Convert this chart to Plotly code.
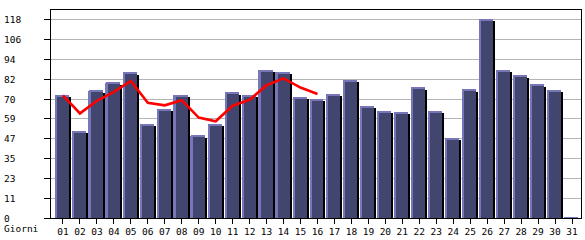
import plotly.graph_objects as go

days = [f"{d:02d}" for d in range(1, 32)]
visits = [73.0, 51.7, 75.9, 80.6, 86.5, 55.9, 64.7, 73.0, 48.9, 55.9,
          74.7, 73.0, 87.9, 86.7, 71.8, 70.6, 73.6, 82.0, 66.5, 63.5,
          62.9, 77.7, 63.5, 47.6, 76.5, 118.4, 87.9, 84.8, 79.5, 76.1, 0.5]
trend_days = list(range(1, 17))
trend = [73.0, 62.3, 69.8, 75.1, 81.6, 68.6, 67.1, 70.2, 59.8, 57.6,
         66.9, 70.4, 79.1, 83.2, 77.7, 73.9]
ytick_vals = [0, 11.8, 23.6, 35.4, 47.2, 59.0, 70.8, 82.6, 94.4, 106.2, 118.0]
ytick_text = ["0", "11", "23", "35", "47", "59", "70", "82", "94", "106", "118"]
x_title = "Giorni"

W, H = 585, 240
ML, MR, MT, MB = 51, 3, 10, 20
pw = W - ML - MR
ph = H - MT - MB
xr = [1 - 12 / 17, 31 + 9 / 17]
yr = [0, 123.9]
upx = (xr[1] - xr[0]) / pw     # data units per pixel (x)
upy = (yr[1] - yr[0]) / ph     # data units per pixel (y)

xs = list(range(1, 32))
font = dict(family="DejaVu Sans Mono", size=9.5, color="black")

fig = go.Figure()
# shadow
fig.add_trace(go.Bar(x=xs, y=[max(v - 2 * upy, 0) for v in visits],
                     width=14 * upx, offset=-6 * upx,
                     marker=dict(color="black", line=dict(width=0)),
                     hoverinfo="skip", showlegend=False))
# body
fig.add_trace(go.Bar(x=xs, y=visits, width=14 * upx, offset=-8 * upx,
                     marker=dict(color="#42456e", line=dict(width=0)),
                     showlegend=False))
# left highlight
fig.add_trace(go.Bar(x=xs, y=visits, width=2 * upx, offset=-8 * upx,
                     marker=dict(color="#7676b8", line=dict(width=0)),
                     hoverinfo="skip", showlegend=False))
# top highlight
fig.add_trace(go.Bar(x=xs, y=[1 * upy] * 31, base=[v - 1 * upy for v in visits],
                     width=14 * upx, offset=-8 * upx,
                     marker=dict(color="#7676b8", line=dict(width=0)),
                     hoverinfo="skip", showlegend=False))
# trend line
fig.add_trace(go.Scatter(x=trend_days, y=trend, mode="lines",
                         line=dict(color="#ff0000", width=2.6),
                         showlegend=False))

annotations = []
for v, t in zip(ytick_vals, ytick_text):
    annotations.append(dict(x=(2 - ML) / pw, xref="paper", y=v, yref="y",
                            text=t, showarrow=False, xanchor="left",
                            yanchor="middle", font=font))
annotations.append(dict(x=(2 - ML) / pw, xref="paper",
                        y=(H - MB - 231) / ph, yref="paper",
                        text=x_title, showarrow=False, xanchor="left",
                        yanchor="middle", font=font))

fig.update_layout(
    width=W, height=H,
    margin=dict(l=ML, r=MR, t=MT, b=MB, pad=0),
    paper_bgcolor="white", plot_bgcolor="white",
    barmode="overlay", bargap=0,
    annotations=annotations,
    font=font,
    xaxis=dict(range=xr, tickvals=xs, ticktext=days, ticks="outside",
               ticklen=5, tickcolor="black", showgrid=False, zeroline=False,
               showline=True, linecolor="black", linewidth=1, mirror=True,
               tickfont=font, fixedrange=True),
    yaxis=dict(range=yr, tickvals=ytick_vals, showticklabels=False,
               ticks="outside", ticklen=6, tickcolor="black",
               showgrid=True, gridcolor="#b4b4b4", gridwidth=1,
               zeroline=False, showline=True, linecolor="black",
               linewidth=1, mirror=True, fixedrange=True),
)

fig.write_html("out.html", config={"displayModeBar": False})
